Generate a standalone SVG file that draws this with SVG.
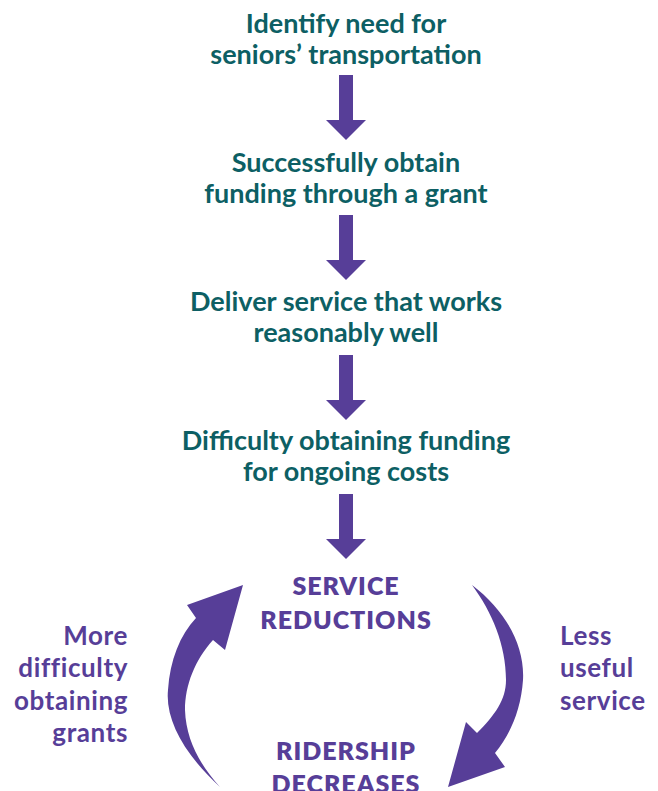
<svg xmlns="http://www.w3.org/2000/svg" width="658" height="791" viewBox="0 0 658 791">
<style>
.t{font-family:Lato,"Open Sans",sans-serif;font-weight:700;font-size:27px;fill:#0d5f64;text-anchor:middle}
.p{font-family:Lato,"Open Sans",sans-serif;font-weight:700;font-size:26px;letter-spacing:0.6px;fill:#573e98}
.c{font-family:Lato,"Open Sans",sans-serif;font-weight:800;font-size:25px;letter-spacing:1px;fill:#573e98;text-anchor:middle}
.a{fill:#573e98}
</style>
<defs>
<path id="dn" d="M-7,0 H7 V45 H20 L0,65 L-20,45 H-7 Z"/>
</defs>
<g id="n1"><text class="t" x="346" y="33">Identify need for</text><text class="t" x="346" y="64">seniors’ transportation</text></g>
<g id="n2"><text class="t" x="346" y="172">Successfully obtain</text><text class="t" x="346" y="203">funding through a grant</text></g>
<g id="n3"><text class="t" x="346" y="311">Deliver service that works</text><text class="t" x="346" y="342">reasonably well</text></g>
<g id="n4"><text class="t" x="346" y="450">Difficulty obtaining funding</text><text class="t" x="346" y="481">for ongoing costs</text></g>
<g id="n5"><text class="c" x="346" y="595">SERVICE</text><text class="c" x="346" y="629">REDUCTIONS</text></g>
<g id="n6"><text class="c" x="346" y="760">RIDERSHIP</text><text class="c" x="346" y="793">DECREASES</text></g>
<g id="l1"><text class="p" text-anchor="end" x="128" y="645">More</text><text class="p" text-anchor="end" x="128" y="677">difficulty</text><text class="p" text-anchor="end" x="128" y="710">obtaining</text><text class="p" text-anchor="end" x="128" y="742">grants</text></g>
<g id="l2"><text class="p" x="560" y="645">Less</text><text class="p" x="560" y="677">useful</text><text class="p" x="560" y="710">service</text></g>
<g id="connectors" class="a">
<use href="#dn" x="346" y="75"/>
<use href="#dn" x="346" y="215"/>
<use href="#dn" x="346" y="355"/>
<use href="#dn" x="346" y="494"/>
<path d="M220,787 C185,755 165,720 168,690 C170,660 180,635 196,618 L187,605 L243,585 L225,650 L213,640 C195,660 185,685 185,710 C186,740 200,765 220,787 Z"/>
<path d="M472,585 C505,610 525,645 523,680 C521,710 510,735 495,753 L505,767 L448,787 L466,722 L477,733 C495,715 506,700 506,680 C506,645 492,612 472,585 Z"/>
</g>
</svg>
